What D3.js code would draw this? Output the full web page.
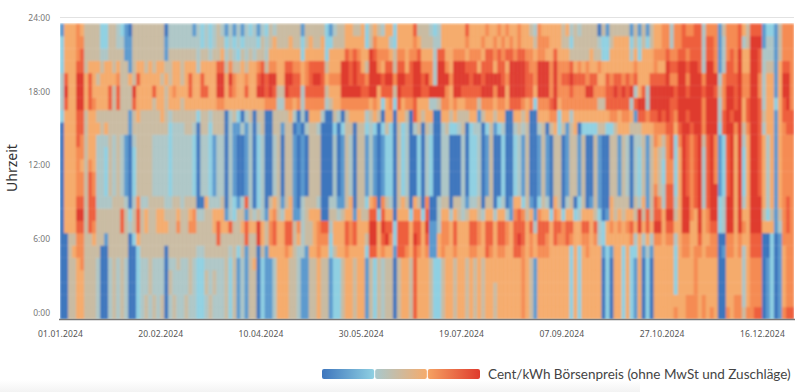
<!DOCTYPE html>
<html>
<head>
<meta charset="utf-8">
<script src="https://cdn.jsdelivr.net/npm/d3@7"></script>
<style>
body { margin: 0; background: #fff; }
text { font-family: "Noto Sans", sans-serif; }
</style>
</head>
<body>
<div id="chart"></div>
<script>
// price band per hour (0:00 first), one digit per 2 days
const hourRows = [
"0044554443 0034343002 3434340343 3433223433 3424131440 2113555443 1144544122 4554551424 3440455475 5542245545 5454545545 5555565415 5555555252 5555502055 2521502055 5556556665 6565006566 4667701201677",
"0044554443 0034343002 3434340343 3433223433 3424131440 2113555443 1144544122 4554551424 3440455475 5542245545 5454545545 5555565415 5555555252 5555502055 2521502055 5555556665 6555005566 3566601201566",
"0044554443 0034343002 3343330433 3343224343 3424131440 2113555443 1144544122 4554551424 3440455475 5542245545 5454545545 5555565415 5555555252 5555502055 2521502055 5552555565 5555005555 3566601201566",
"0044554443 0034343002 3343330433 3343224343 3424131440 2113555443 1144544122 4554551424 3440455475 5542245545 5454545555 5555565415 5555555252 5555502055 2521502055 5552555565 5555005555 3566601201566",
"0044564443 0034343002 3343330334 3343223333 3424131450 2113555443 1144544122 4554551424 3440455475 5542245545 5454545555 5555565415 5555555252 5555502055 2521502055 5552555565 5555005555 3566601201566",
"0045664444 0044444002 4444440444 4444334444 4434241440 4155556543 3155655245 5655552775 6551776576 5611565565 5566557656 6557765656 6655555252 5655512155 2522513155 5552566566 5666016656 3577700201566",
"0044664454 4144444025 4444444444 4444444447 4444447448 5467557745 3445666255 5767554885 7862777587 5711566575 5577657757 7657875657 7657667655 6656325555 5563535366 5663566557 5566006656 5577700201666",
"0555774764 4444474347 4544555446 4466444457 5574457558 5467557746 3445677355 5767555885 8772777577 5811366575 5577657757 7657775737 7757767755 7757325656 5675857588 5775588558 5677238858 6588855513676",
"0555884774 4444474247 4544554445 4456334455 5132441434 3156435511 3455500443 4551544772 7550555266 2700355354 3455435535 5316764516 5526525523 5554201545 4554847477 5884588658 5688238858 5588842414676",
"0555774773 3334443036 3344443344 3444005333 4032137302 3045414510 3444300331 1450442560 6430454054 0600344044 3133404402 3015524102 4305403402 4014100544 4404351476 3773588678 3788238858 3588853515676",
"0555664763 3243431024 4443333233 3332033213 3031001302 3003404410 1044400030 1430441310 1220423002 0320033000 3022301400 2002314001 4104401441 4004100441 4303241464 3772587678 3788127858 2588753515666",
"0555664763 3243431024 4443333233 3332033213 3031001302 3003404410 1044400030 1430441310 1220423002 0320033000 3022301400 2002314001 4104401441 4004100441 4303241454 2662587678 3786127858 2588753515666",
"0555654653 3243431024 4443333233 3332033213 3031001302 3003404410 1044400030 1430441310 1220423002 0320033000 3022301400 2002314001 4104401441 4004100441 4303241454 2662587678 3786127858 2588753515666",
"0555664553 3243431024 4443333233 3332033213 3031001302 3003404410 1044400030 1430441310 1220423002 0320033000 3022301400 2002314001 4104401441 4004100441 4303241454 3672587678 3786127858 2588753515666",
"0555764553 3343431034 4443333233 3332033213 3031001302 3003404410 1044400030 1430441310 1220423002 0320033000 3022301400 2002314001 4104401441 4004100441 4303341465 4672687678 4786127858 3588753515666",
"0555774555 4544444144 4444444233 3443044244 4031131303 4004414401 0344300020 2440442320 2420423034 0430034223 4023302412 3003434003 4045241450 2222442245 5544455566 6775788788 6888278868 4688735515677",
"2555774554 4444444145 4444454344 4444244344 4034203404 4004444530 3055530043 0455553454 0550554075 4550055454 4455145545 5005545005 5566255355 5555555665 6651776778 7876887888 6888378788 5788745515777",
"3755885765 5574744475 5554554555 4555555556 6555555555 5666336656 3666663455 6666666565 2562756675 5533466565 5666466656 6577765626 6678566666 6666447777 7737883888 8877888888 6888368878 5788735525786",
"3855885755 5574744485 5557554565 5575577558 8576557558 8787448777 3777774555 8888877885 7774877788 7788886588 7777788868 8588887758 8868666766 6886667787 8783573888 8887887888 7887468878 6688635515886",
"3755885754 5555644547 5555545455 4575575558 8586556557 8788558877 5678875666 8878776888 7886887788 7863888688 8878878888 7688887768 8868677877 7677557677 6767555777 7866886888 6888367778 6688635515886",
"2555774555 4554544145 5454554455 4555355557 7464454556 7466557766 5677774555 8878754886 5774775788 6663886588 8777577757 7588887668 8868666756 5655655555 5556555565 5877887887 3886137768 5588734415776",
"2555674444 3344441144 4444441444 4444344344 5343243434 4355555555 2555552555 5767655876 6654665667 5553775566 6566657767 6776776656 6557555444 4454422555 5535255566 6766776777 3776136768 5588733314666",
"2555664444 2244331144 4444441333 3333323234 4232323332 4345444544 2454452244 4555552465 5532555565 4443355555 5655565565 6565655546 6655544244 4444322455 5524242455 6636677777 3776136667 3488813314666",
"1555654444 2244321044 4444440333 3331323234 3131313231 3243444444 1444442134 4554452454 3552555574 4432355555 5755556556 5655655436 5555545343 4444041444 4414141455 6636676677 3666146667 5477712214666"
];
const daysPerCell = 2;
const totalDays = 366;

const levelColors = ["#3e76bd", "#5b9ace", "#8fd0e2", "#adc6c6", "#c9bba2", "#f5ab6c", "#f58b52", "#ee5f3c", "#df3b2d"];

const tickDays = [0, 50, 100, 150, 200, 250, 300, 350];
const tickLabels = ["01.01.2024", "20.02.2024", "10.04.2024", "30.05.2024", "19.07.2024", "07.09.2024", "27.10.2024", "16.12.2024"];
const hourTicks = [0, 6, 12, 18, 24];

const legendStops = [["#3e76bd", "#8fd0e2"], ["#a9c8cc", "#f5ab6c"], ["#f5a263", "#df3b2d"]];
const legendTitle = "Cent/kWh Börsenpreis (ohne MwSt und Zuschläge)";

const width = 800;
const height = 392;

const svg = d3.select("#chart")
    .append("svg")
    .attr("width", width)
    .attr("height", height)
    .style("display", "block");

const defs = svg.append("defs");
defs.append("filter").attr("id", "soft")
    .attr("filterUnits", "userSpaceOnUse")
    .attr("x", 60).attr("y", 23.5).attr("width", 734).attr("height", 295.5)
    .append("feGaussianBlur").attr("stdDeviation", 1.1).attr("edgeMode", "duplicate");

const x = d3.scaleLinear().domain([0, totalDays]).range([60, 794]);
const y = d3.scaleLinear().domain([0, 24]).range([313, 17.5]);
const color = d3.scaleOrdinal().domain(d3.range(levelColors.length)).range(levelColors);

const cells = hourRows.flatMap((row, hour) =>
    row.replace(/ /g, "").split("").map((c, i) => ({hour, day: i * daysPerCell, level: +c})));

// bottom fade of the page card
const fade = defs.append("linearGradient").attr("id", "fade").attr("x1", 0).attr("x2", 0).attr("y1", 0).attr("y2", 1);
fade.append("stop").attr("offset", 0).attr("stop-color", "#fff");
fade.append("stop").attr("offset", 1).attr("stop-color", "#f3f3f3");
svg.append("rect").attr("x", 0).attr("y", 380).attr("width", 640).attr("height", 12).attr("fill", "url(#fade)");

// 24:00 grid line
svg.append("line")
    .attr("x1", x(0)).attr("x2", x(totalDays))
    .attr("y1", y(24)).attr("y2", y(24))
    .attr("stroke", "#e2e2e2").attr("stroke-width", 1);

const rowHeight = y(0) - y(1);

svg.append("g")
    .attr("filter", "url(#soft)")
    .selectAll("rect")
    .data(cells)
    .enter().append("rect")
    .attr("x", d => x(d.day))
    .attr("y", d => y(d.hour) - rowHeight / 2)
    .attr("width", x(daysPerCell) - x(0) + 0.3)
    .attr("height", rowHeight + 0.3)
    .attr("fill", d => color(d.level));

svg.append("line")
    .attr("x1", x(0) - 1).attr("x2", x(totalDays) + 1)
    .attr("y1", 319.5).attr("y2", 319.5)
    .attr("stroke", "#777").attr("stroke-width", 1.4);

const yAxis = svg.append("g")
    .attr("transform", "translate(50,0)")
    .call(d3.axisLeft(y).tickValues(hourTicks).tickSize(0).tickFormat(h => h + ":00"));
yAxis.select(".domain").remove();
yAxis.selectAll("text").attr("font-size", 8.5).attr("fill", "#777").attr("dx", 3);

const xAxis = svg.append("g")
    .attr("transform", "translate(0,328)")
    .call(d3.axisBottom(x).tickValues(tickDays).tickSize(0).tickFormat((d, i) => tickLabels[i]));
xAxis.select(".domain").remove();
xAxis.selectAll("text").attr("font-size", 8.5).attr("fill", "#555").attr("dy", "0.7em").attr("letter-spacing", 0.15);

svg.append("text")
    .attr("transform", "translate(17,168) rotate(-90)")
    .attr("text-anchor", "middle")
    .attr("font-size", 14)
    .attr("fill", "#333")
    .text("Uhrzeit");

// legend
const legendX = d3.scaleLinear().domain([0, 3]).range([322, 480]);
legendStops.forEach((pair, i) => {
    const grad = defs.append("linearGradient").attr("id", "legend" + i);
    grad.append("stop").attr("offset", 0).attr("stop-color", pair[0]);
    grad.append("stop").attr("offset", 1).attr("stop-color", pair[1]);
    svg.append("rect")
        .attr("x", legendX(i) + (i ? 0.5 : 0))
        .attr("y", 369)
        .attr("width", legendX(1) - legendX(0) - (i === 1 ? 1 : 0.5))
        .attr("height", 10)
        .attr("rx", 2)
        .attr("fill", "url(#legend" + i + ")");
});

svg.append("text")
    .attr("x", 488)
    .attr("y", 379)
    .attr("font-size", 13.5)
    .attr("fill", "#444")
    .style("font-family", "Lato, sans-serif")
    .text(legendTitle);
</script>
</body>
</html>
